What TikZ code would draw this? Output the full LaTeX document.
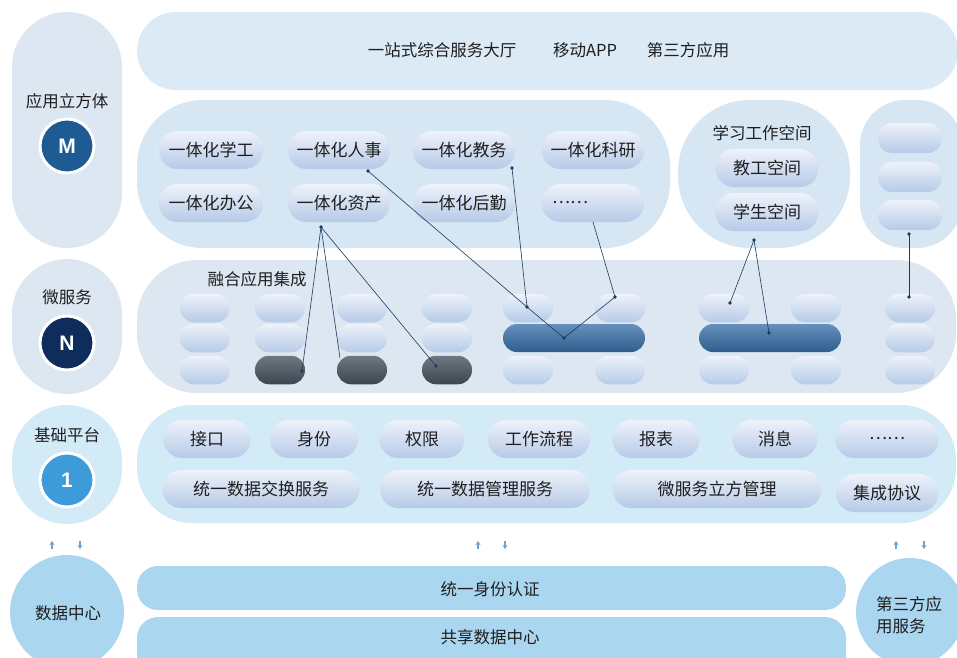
\documentclass[tikz,border=0pt]{standalone}
\usepackage{fontspec}
\setmainfont{Noto Sans CJK SC}
\newfontfamily\latinb{Liberation Sans}
\usetikzlibrary{arrows.meta}
\definecolor{txt}{HTML}{1E1E1E}
\definecolor{bandA}{HTML}{DCEAF6}
\definecolor{bandB}{HTML}{D6E6F3}
\definecolor{bandC}{HTML}{DCE7F2}
\definecolor{bandD}{HTML}{D3EAF7}
\definecolor{bandE}{HTML}{ABD6F0}
\definecolor{pillT}{HTML}{EEF2FA}
\definecolor{pillB}{HTML}{B6CAE7}
\definecolor{darkT}{HTML}{6E7881}
\definecolor{darkB}{HTML}{3C4650}
\definecolor{barT}{HTML}{6690BC}
\definecolor{barB}{HTML}{2E5D8E}
\definecolor{cM}{HTML}{1E5B94}
\definecolor{cN}{HTML}{0E2D5C}
\definecolor{cOne}{HTML}{3D9BD9}
\definecolor{lnk}{HTML}{1A3A60}
\definecolor{arr}{HTML}{6AA3D8}
\tikzset{
  base/.style={inner sep=0pt, draw=none, text=txt},
  pillL/.style={base, rounded corners=18.5pt, minimum height=38pt, top color=pillT, bottom color=pillB, font=\fontsize{17}{20}\selectfont},
  pillS/.style={base, rounded corners=14pt, minimum height=28.5pt, minimum width=50pt, top color=pillT, bottom color=pillB},
  pillR/.style={base, rounded corners=14.5pt, minimum height=30pt, minimum width=64pt, top color=pillT, bottom color=pillB},
  darkpill/.style={base, rounded corners=14pt, minimum height=28.5pt, minimum width=50pt, top color=darkT, bottom color=darkB},
  bluebar/.style={base, rounded corners=14pt, minimum height=28pt, minimum width=142pt, top color=barT, bottom color=barB},
  badge/.style={circle, draw=white, line width=3pt, minimum size=54pt, inner sep=0pt, text=white, font=\latinb\bfseries\fontsize{21}{21}\selectfont},
  lbl/.style={inner sep=0pt, text=txt},
  link/.style={draw=lnk, line width=0.6pt},
  updn/.style={draw=arr, line width=1.6pt, -{Stealth[length=4pt,width=5pt]}}
}
\begin{document}
\begin{tikzpicture}[x=1pt,y=-1pt, every node/.append style={font=\fontsize{16.5}{20}\selectfont}]
\clip (0,0) rectangle (957,657);
\fill[white] (0,0) rectangle (957,657);
% left column
\fill[bandC, rounded corners=55pt] (12,12) rectangle (122,248);
\fill[bandC, rounded corners=55pt] (12,259) rectangle (122,394);
\fill[bandD, rounded corners=55pt] (12,405) rectangle (122,524);
\fill[bandE] (67,612) circle (57);
\fill[bandE] (910,612) circle (54);
% bands
\fill[bandA, rounded corners=39pt] (137,12) rectangle (958,90);
\fill[bandB, rounded corners=66pt] (137,100) rectangle (670,248);
\fill[bandB, rounded corners=72pt] (678,100) rectangle (850,248);
\fill[bandB, rounded corners=45pt] (860,100) rectangle (962,248);
\fill[bandC, rounded corners=60pt] (137,260) rectangle (956,393);
\fill[bandD, rounded corners=55pt] (137,405) rectangle (956,523);
\fill[bandE, rounded corners=21pt] (137,566) rectangle (846,610);
\fill[bandE, rounded corners=21pt] (137,617) rectangle (846,680);

% left labels
\node[lbl] (lApp) at (67,101) {应用立方体};
\node[badge, fill=cM] (bM) at (67,146) {M};
\node[lbl] (lMs) at (67,297) {微服务};
\node[badge, fill=cN] (bN) at (67,343) {N};
\node[lbl] (lBase) at (67,435) {基础平台};
\node[badge, fill=cOne] (bOne) at (67,480) {1};
\node[lbl] (lDc) at (68,613) {数据中心};
\node[lbl, align=left, anchor=west] (lTp) at (876,615) {第三方应\\[2pt]用服务};

% top row
\node[lbl] (t1) at (442,50) {一站式综合服务大厅};
\node[lbl] (t2) at (585,50) {移动APP};
\node[lbl] (t3) at (688,50) {第三方应用};

% second row
\node[pillL, minimum width=104pt] (xg) at (211,150) {一体化学工};
\node[pillL, minimum width=102pt] (rs) at (339,150) {一体化人事};
\node[pillL, minimum width=102pt] (jw) at (464,150) {一体化教务};
\node[pillL, minimum width=102pt] (ky) at (593,150) {一体化科研};
\node[pillL, minimum width=104pt] (bg) at (211,203) {一体化办公};
\node[pillL, minimum width=102pt] (zc) at (339,203) {一体化资产};
\node[pillL, minimum width=102pt] (hq) at (464,203) {一体化后勤};
\node[pillL, minimum width=102pt, text width=82pt, align=left] (etc1) at (593,203) {……};
\node[lbl] (xxkj) at (762,133) {学习工作空间};
\node[pillL, minimum width=103pt] (jgkj) at (767,168) {教工空间};
\node[pillL, minimum width=103pt] (xskj) at (767,212) {学生空间};
\node[pillR] (r1) at (910,138) {};
\node[pillR] (r2) at (910,177) {};
\node[pillR] (r3) at (910,215) {};

% third row
\node[lbl] (rhjc) at (257,279) {融合应用集成};
\foreach \n/\x/\y in {a1/205/308, a2/205/338, a3/205/370,
                      b1/280/308, b2/280/338,
                      c1/362/308, c2/362/338,
                      d1/447/308, d2/447/338,
                      e1/528/308, e3/528/370, f1/620/308, f3/620/370,
                      g1/724/308, g3/724/370, h1/816/308, h3/816/370,
                      i1/910/308, i2/910/338, i3/910/370}
  \node[pillS] (\n) at (\x,\y) {};
\node[darkpill] (b3) at (280,370) {};
\node[darkpill] (c3) at (362,370) {};
\node[darkpill] (d3) at (447,370) {};
\node[bluebar] (bar1) at (574,338) {};
\node[bluebar] (bar2) at (770,338) {};

% fourth row
\node[pillL, minimum width=87pt] (jk) at (207,439) {接口};
\node[pillL, minimum width=88pt] (sf) at (314,439) {身份};
\node[pillL, minimum width=85pt] (qx) at (422,439) {权限};
\node[pillL, minimum width=102pt] (gzlc) at (539,439) {工作流程};
\node[pillL, minimum width=87pt] (bb) at (656,439) {报表};
\node[pillL, minimum width=85pt] (xx) at (775,439) {消息};
\node[pillL, minimum width=103pt] (etc2) at (887,439) {……};
\node[pillL, minimum width=197pt] (sjjh) at (261,489) {统一数据交换服务};
\node[pillL, minimum width=210pt] (sjgl) at (485,489) {统一数据管理服务};
\node[pillL, minimum width=209pt] (wfw) at (717,489) {微服务立方管理};
\node[pillL, minimum width=102pt] (jcxy) at (887,493) {集成协议};

% bottom bars
\node[lbl] (tysf) at (490,589) {统一身份认证};
\node[lbl] (gxsj) at (490,637) {共享数据中心};

% up/down arrows
\foreach \x/\k in {52/1, 478/2, 896/3} {
  \coordinate (u\k a) at (\x,549);
  \coordinate (u\k b) at (\x,541);
  \draw[updn] (u\k a) -- (u\k b);
}
\foreach \x/\k in {80/1, 505/2, 924/3} {
  \coordinate (d\k a) at (\x,541);
  \coordinate (d\k b) at (\x,549);
  \draw[updn] (d\k a) -- (d\k b);
}

% connector points
\coordinate (pZC) at (321,227);
\coordinate (pB3) at (302,371);
\coordinate (pC3) at (340,358);
\coordinate (pD3) at (436,366);
\coordinate (pRS) at (368,171);
\coordinate (pJW) at (512,168);
\coordinate (pE1) at (527,307);
\coordinate (pBar1) at (564,338);
\coordinate (pF1) at (615,297);
\coordinate (pEtc) at (593,222);
\coordinate (pXS) at (754,240);
\coordinate (pG1) at (730,303);
\coordinate (pBar2) at (769,333);
\coordinate (pR3) at (909,234);
\coordinate (pI1) at (909,297);

\draw[link] (pZC) -- (pB3);
\draw[link] (pZC) -- (pC3);
\draw[link] (pZC) -- (pD3);
\draw[link] (pRS) -- (pE1) -- (pBar1) -- (pF1);
\draw[link] (pJW) -- (pE1);
\draw[link] (pEtc) -- (pF1);
\draw[link] (pXS) -- (pG1);
\draw[link] (pXS) -- (pBar2);
\draw[link] (pR3) -- (pI1);
\foreach \p in {pZC,pB3,pD3,pRS,pJW,pE1,pBar1,pF1,pXS,pG1,pBar2,pR3,pI1}
  \fill[lnk] (\p) circle (1.8);
\end{tikzpicture}
\end{document}
